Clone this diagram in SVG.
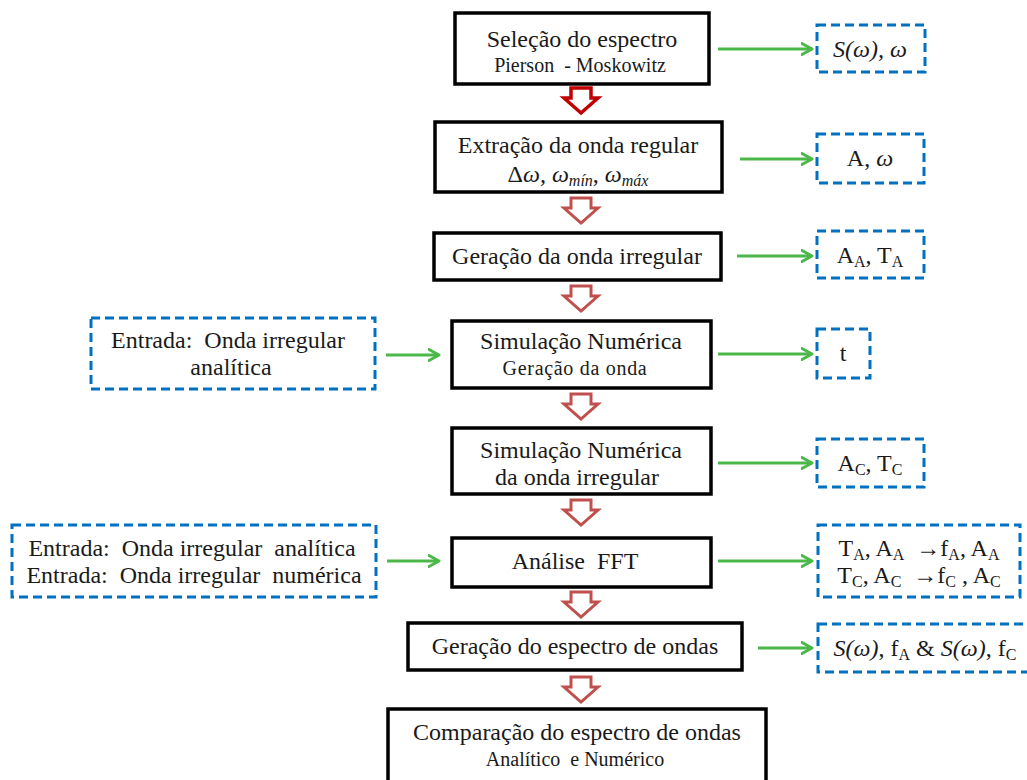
<svg xmlns="http://www.w3.org/2000/svg" width="1027" height="780" viewBox="0 0 1027 780" font-family="'Liberation Serif', 'Times New Roman', serif">
<defs>
<style>
.box{fill:#fff;stroke:#000;stroke-width:3.5}
.dbox{fill:#fff;stroke:#0070c0;stroke-width:3;stroke-dasharray:9 5}
text{font-family:'Liberation Serif','Times New Roman',serif;white-space:pre;fill:#1a1a1a;text-anchor:middle}
.t{font-size:24px}
.s{font-size:20px}
.g{stroke:#4cb84a;stroke-width:3;fill:none;marker-end:url(#ga)}
.r{fill:#fff;stroke:#c0504d;stroke-width:3;stroke-linejoin:miter}
.r1{fill:#fff;stroke:#c00000;stroke-width:3.5;stroke-linejoin:miter}
.i{font-style:italic}
.b{font-size:16px}
</style>
<marker id="ga" markerWidth="14" markerHeight="14" refX="11" refY="7" orient="auto" markerUnits="userSpaceOnUse">
<path d="M1,1.5 L11,7 L1,12.5" fill="none" stroke="#4cb84a" stroke-width="3" stroke-linecap="round" stroke-linejoin="round"/>
</marker>
<path id="da" d="M-10,0 H10 V10 H17 L0,25 L-17,10 H-10 Z"/>
</defs>

<g id="connectors">
<use href="#da" x="581" y="88" class="r1"/>
<use href="#da" x="581" y="198" class="r"/>
<use href="#da" x="581" y="286" class="r"/>
<use href="#da" x="581" y="394" class="r"/>
<use href="#da" x="581" y="500" class="r"/>
<use href="#da" x="581" y="592" class="r"/>
<use href="#da" x="581" y="677" class="r"/>
<path class="g" d="M718,49 H812"/>
<path class="g" d="M740,159 H812"/>
<path class="g" d="M737,256 H812"/>
<path class="g" d="M718,354 H812"/>
<path class="g" d="M718,463 H812"/>
<path class="g" d="M718,561 H812"/>
<path class="g" d="M758,648 H812"/>
<path class="g" d="M386,355 H439"/>
<path class="g" d="M387,561 H439"/>
</g>

<g id="n1"><rect class="box" x="455" y="13" width="254" height="71"/>
<text class="t" x="582" y="47">Seleção do espectro</text>
<text class="s" x="580" y="72">Pierson  - Moskowitz</text></g>

<g id="n2"><rect class="box" x="435" y="122" width="287" height="70"/>
<text class="t" x="578" y="153">Extração da onda regular</text>
<text class="t" x="578" y="182" font-size="22"><tspan>Δ</tspan><tspan class="i">ω, ω</tspan><tspan class="i b" dy="4">mín</tspan><tspan dy="-4">, </tspan><tspan class="i">ω</tspan><tspan class="i b" dy="4">máx</tspan></text></g>

<g id="n3"><rect class="box" x="434" y="233" width="287" height="47"/>
<text class="t" x="577" y="264">Geração da onda irregular</text></g>

<g id="n4"><rect class="box" x="452" y="321" width="259" height="67"/>
<text class="t" x="581" y="349">Simulação Numérica</text>
<text class="s" x="575" y="375" letter-spacing="0.7">Geração da onda</text></g>

<g id="n5"><rect class="box" x="452" y="428" width="259" height="66"/>
<text class="t" x="581" y="458">Simulação Numérica</text>
<text class="t" x="577" y="485">da onda irregular</text></g>

<g id="n6"><rect class="box" x="452" y="538" width="259" height="49"/>
<text class="t" x="575" y="569">Análise  FFT</text></g>

<g id="n7"><rect class="box" x="408" y="623" width="334" height="47"/>
<text class="t" x="575" y="654">Geração do espectro de ondas</text></g>

<g id="n8"><rect class="box" x="388" y="709" width="378" height="75"/>
<text class="t" x="577" y="740">Comparação do espectro de ondas</text>
<text class="s" x="575" y="766">Analítico  e Numérico</text></g>

<g id="r1"><rect class="dbox" x="817" y="25" width="108" height="47"/>
<text class="t i" x="870" y="57">S(ω), ω</text></g>

<g id="r2"><rect class="dbox" x="817" y="134" width="107" height="49"/>
<text class="t" x="870" y="166">A, <tspan class="i">ω</tspan></text></g>

<g id="r3"><rect class="dbox" x="817" y="231" width="107" height="47"/>
<text class="t" x="870" y="263">A<tspan class="b" dy="4">A</tspan><tspan dy="-4">, T</tspan><tspan class="b" dy="4">A</tspan></text></g>

<g id="r4"><rect class="dbox" x="817" y="329" width="53" height="49"/>
<text class="t" x="843" y="361">t</text></g>

<g id="r5"><rect class="dbox" x="817" y="439" width="107" height="48"/>
<text class="t" x="870" y="471">A<tspan class="b" dy="4">C</tspan><tspan dy="-4">, T</tspan><tspan class="b" dy="4">C</tspan></text></g>

<g id="r6"><rect class="dbox" x="818" y="525" width="202" height="72"/>
<text class="t" x="919" y="556">T<tspan class="b" dy="4">A</tspan><tspan dy="-4">, A</tspan><tspan class="b" dy="4">A</tspan><tspan dy="-4">  →f</tspan><tspan class="b" dy="4">A</tspan><tspan dy="-4">, A</tspan><tspan class="b" dy="4">A</tspan></text>
<text class="t" x="919" y="583">T<tspan class="b" dy="4">C</tspan><tspan dy="-4">, A</tspan><tspan class="b" dy="4">C</tspan><tspan dy="-4">  →f</tspan><tspan class="b" dy="4">C</tspan><tspan dy="-4"> , A</tspan><tspan class="b" dy="4">C</tspan></text></g>

<g id="r7"><rect class="dbox" x="818" y="624" width="215" height="48"/>
<text class="t" x="925" y="656"><tspan class="i">S(ω)</tspan>, f<tspan class="b" dy="4">A</tspan><tspan dy="-4"> &amp; </tspan><tspan class="i">S(ω)</tspan>, f<tspan class="b" dy="4">C</tspan></text></g>

<g id="l1"><rect class="dbox" x="91" y="318" width="284" height="71"/>
<text class="t" x="228" y="348">Entrada:  Onda irregular</text>
<text class="t" x="231" y="375">analítica</text></g>

<g id="l2"><rect class="dbox" x="12" y="525" width="364" height="72"/>
<text class="t" x="192" y="556">Entrada:  Onda irregular  analítica</text>
<text class="t" x="194" y="583">Entrada:  Onda irregular  numérica</text></g>
</svg>
